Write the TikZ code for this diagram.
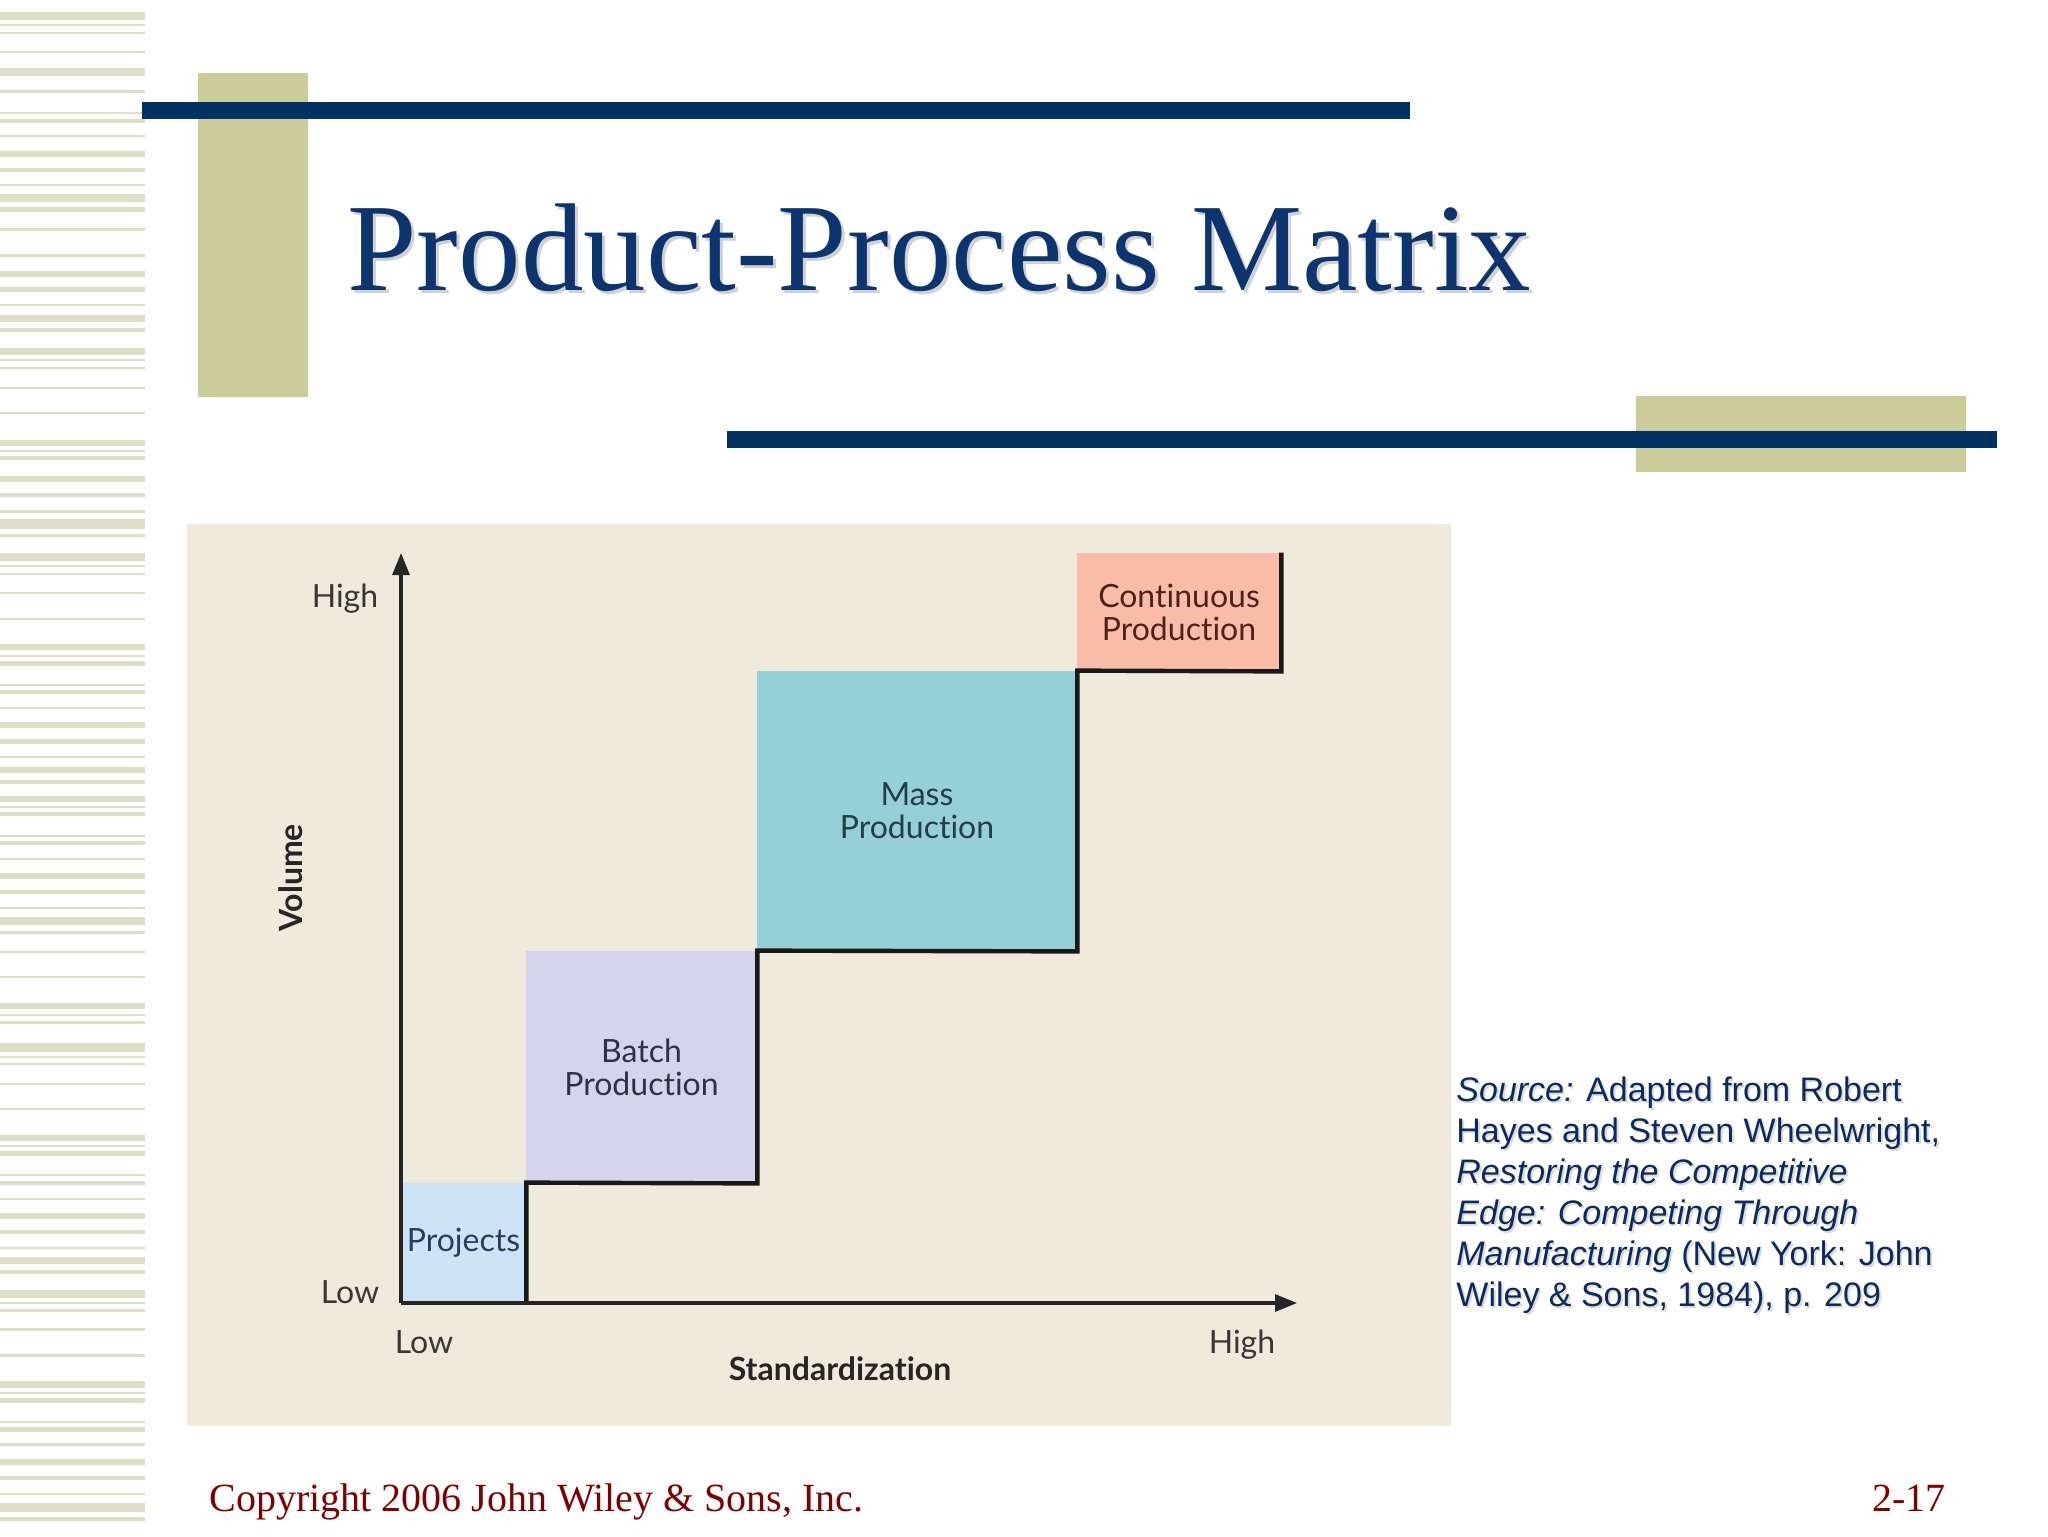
\documentclass[tikz,border=0pt]{standalone}
\usepackage{fontspec}
\setmainfont{Liberation Serif}
\newfontfamily\diagfont[Ligatures=NoCommon]{Lato}
\newfontfamily\arialfont{Liberation Sans}
\usetikzlibrary{arrows.meta}
\definecolor{stripecol}{RGB}{222,222,198}
\definecolor{olive}{RGB}{204,204,155}
\definecolor{navyline}{RGB}{0,50,100}
\definecolor{titleblue}{RGB}{12,52,110}
\definecolor{beige}{RGB}{239,234,219}
\definecolor{projfill}{RGB}{204,228,246}
\definecolor{batchfill}{RGB}{213,211,238}
\definecolor{massfill}{RGB}{149,207,215}
\definecolor{contfill}{RGB}{249,188,167}
\definecolor{srcblue}{RGB}{12,42,96}
\definecolor{copyred}{RGB}{128,0,0}
\definecolor{labgray}{RGB}{55,55,55}
\tikzset{
  stripe/.style={fill=stripecol},
  box/.style={rectangle, inner sep=0pt, align=center, font=\diagfont\fontsize{16}{16.5}\selectfont},
  axislab/.style={inner sep=0pt, anchor=base, text=labgray, font=\diagfont\fontsize{16}{16.5}\selectfont},
  boldlab/.style={inner sep=0pt, text=black!85, font=\diagfont\bfseries\fontsize{16}{16.5}\selectfont},
  axisline/.style={draw=black!85, line width=1.6pt, -{Triangle[length=11pt,width=8.5pt]}},
  stairline/.style={draw=black!90, line width=2.2pt, line join=miter},
  srcline/.style={inner sep=0pt, anchor=base west, text=srcblue, font=\arialfont\fontsize{17}{20.5}\selectfont},
  srcshadow/.style={inner sep=0pt, anchor=base west, text=black!14, font=\arialfont\fontsize{17}{20.5}\selectfont},
}
\begin{document}
\begin{tikzpicture}[x=0.5pt,y=-0.5pt]
\useasboundingbox (0,0) rectangle (2048,1536);
\fill[white] (0,0) rectangle (2048,1536);
% left stripes
\foreach \a/\b in {12/20,24/26,32/34,51/53,68/76,90/93,112/114,119/123,135/137,151/157,168/172,184/186,194/202,207/212,228/231,254/257,271/277,287/292,304/306,315/322,328/332,348/355,359/361,367/369,387/389,412/414,440/446,450/452,456/460,476/482,493/497,510/513,519/529,534/537,553/561,565/567,573/575,592/594,618/620,644/650,655/657,661/666,684/686,690/694,707/709,722/728,739/744,756/758,767/773,780/784,796/802,806/808,812/816,835/837,841/845,858/860,873/879,890/894,907/909,917/925,931/934,951/953,976/978,1003/1009,1014/1016,1021/1024,1043/1052,1056/1058,1063/1065,1083/1085,1108/1110,1135/1141,1145/1147,1151/1156,1174/1176,1181/1185,1198/1200,1213/1219,1230/1234,1247/1249,1257/1264,1270/1274,1290/1298,1302/1304,1309/1312,1328/1331,1354/1357,1381/1388,1392/1394,1398/1403,1421/1423,1427/1432,1443/1446,1459/1465,1476/1480,1493/1495,1503/1512,1517/1521}
  \fill[stripe] (0,\a) rectangle (145,\b);
% decorative bars
\fill[olive] (198,73) rectangle (308,397);
\fill[navyline] (142,102) rectangle (1410,119);
\fill[olive] (1636,396) rectangle (1966,472);
\fill[navyline] (727,431) rectangle (1997,448);
% title
\node[inner sep=0pt, anchor=base west, text=black!18, font=\fontsize{62.5}{62.5}\selectfont] (titleshadow) at (350,293) {Product-Process Matrix};
\node[inner sep=0pt, anchor=base west, text=titleblue, font=\fontsize{62.5}{62.5}\selectfont] (title) at (347,290) {Product-Process Matrix};
% diagram background
\fill[beige] (187,524) rectangle (1451,1426);
% boxes
\node[box, fill=projfill, text={rgb,255:red,40;green,60;blue,95}, minimum width=62.5pt, minimum height=60pt] (proj) at (463.5,1243) {Projects};
\node[box, fill=batchfill, text={rgb,255:red,45;green,50;blue,72}, minimum width=115.5pt, minimum height=116pt] (batch) at (641.5,1067) {Batch\\Production};
\node[box, fill=massfill, text={rgb,255:red,38;green,60;blue,72}, minimum width=160pt, minimum height=140pt] (mass) at (917,811) {Mass\\Production};
\node[box, fill=contfill, text={rgb,255:red,72;green,36;blue,26}, minimum width=102pt, minimum height=59pt] (cont) at (1179,612) {Continuous\\Production};
% staircase
\draw[stairline] (proj.south east) -- (proj.north east) -- (batch.south east) -- (batch.north east) -- (mass.south east) -- (mass.north east) -- (cont.south east) -- (cont.north east);
% axes
\coordinate (origin) at (401,1303);
\coordinate (ytip) at (401,553);
\coordinate (xtip) at (1297,1303);
\draw[axisline] (origin) -- (ytip);
\draw[axisline] (origin) -- (xtip);
% axis labels
\node[axislab] (yhigh) at (345,607) {High};
\node[axislab] (ylow) at (350,1303) {Low};
\node[axislab] (xlow) at (424,1353) {Low};
\node[axislab] (xhigh) at (1242,1353) {High};
\node[boldlab, anchor=base] (stdlab) at (840,1380) {Standardization};
\node[boldlab, rotate=90] (vollab) at (291,878) {Volume};
% source
\node[srcshadow] (s1s) at (1458,1103) {\itshape Source:\upshape{} Adapted from Robert};
\node[srcshadow] (s2s) at (1458,1144) {Hayes and Steven Wheelwright,};
\node[srcshadow] (s3s) at (1458,1185) {\itshape Restoring the Competitive};
\node[srcshadow] (s4s) at (1458,1226) {\itshape Edge: Competing Through};
\node[srcshadow] (s5s) at (1458,1267) {\itshape Manufacturing\upshape{} (New York: John};
\node[srcshadow] (s6s) at (1458,1308) {Wiley \& Sons, 1984), p. 209};
\node[srcline] (s1) at (1456,1101) {\itshape Source:\upshape{} Adapted from Robert};
\node[srcline] (s2) at (1456,1142) {Hayes and Steven Wheelwright,};
\node[srcline] (s3) at (1456,1183) {\itshape Restoring the Competitive};
\node[srcline] (s4) at (1456,1224) {\itshape Edge: Competing Through};
\node[srcline] (s5) at (1456,1265) {\itshape Manufacturing\upshape{} (New York: John};
\node[srcline] (s6) at (1456,1306) {Wiley \& Sons, 1984), p. 209};
% footer
\node[inner sep=0pt, anchor=base west, text=copyred, font=\fontsize{20}{24}\selectfont] (copy) at (209,1511) {Copyright 2006 John Wiley \& Sons, Inc.};
\node[inner sep=0pt, anchor=base east, text=copyred, font=\fontsize{20}{24}\selectfont] (pagenum) at (1946,1511) {2-17};
\end{tikzpicture}
\end{document}
